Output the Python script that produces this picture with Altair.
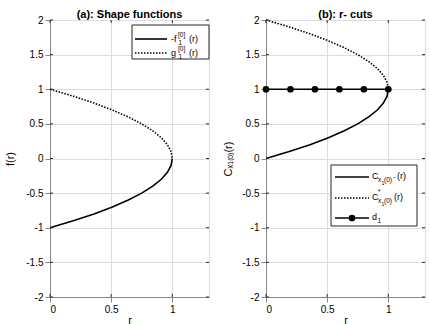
import altair as alt
import pandas as pd

FONT = "Liberation Sans"
INK = "#262626"

# ---- values ----
r_pts = [0.0, 0.19, 0.36, 0.51, 0.64, 0.75, 0.84, 0.91, 0.96, 0.99, 1.0]
neg_f1 = [-1.0, -0.9, -0.8, -0.7, -0.6, -0.5, -0.4, -0.3, -0.2, -0.1, 0.0]
g1 = [1.0, 0.9, 0.8, 0.7, 0.6, 0.5, 0.4, 0.3, 0.2, 0.1, 0.0]
c_lo = [0.0, 0.1, 0.2, 0.3, 0.4, 0.5, 0.6, 0.7, 0.8, 0.9, 1.0]
c_hi = [2.0, 1.9, 1.8, 1.7, 1.6, 1.5, 1.4, 1.3, 1.2, 1.1, 1.0]
d_r = [0.0, 0.2, 0.4, 0.6, 0.8, 1.0]
d1 = [1.0, 1.0, 1.0, 1.0, 1.0, 1.0]

x_ticks = [0, 0.5, 1]
y_ticks = [-2, -1.5, -1, -0.5, 0, 0.5, 1, 1.5, 2]

W, H = 159, 277


def frame(r, y):
    return pd.DataFrame({"r": r, "y": y, "i": list(range(len(r)))})


def xenc():
    return alt.X("r:Q", scale=alt.Scale(domain=[0, 1.3], nice=False, zero=False),
                 axis=alt.Axis(values=x_ticks, title="r", labelExpr="'' + datum.value",
                               titleFontWeight="normal", titlePadding=0, labelPadding=2))


def yenc(title, tpad):
    return alt.Y("y:Q", scale=alt.Scale(domain=[-2, 2], nice=False),
                 axis=alt.Axis(values=y_ticks, title=title, labelExpr="'' + datum.value",
                               titleFontWeight="normal", titlePadding=tpad))


def curve(df, title, tpad, dash=None):
    kw = dict(color="black", strokeWidth=1.6)
    if dash:
        kw["strokeDash"] = dash
    return alt.Chart(df).mark_line(**kw).encode(x=xenc(), y=yenc(title, tpad), order="i:Q")


def inner_ticks(title, tpad):
    yt = pd.DataFrame({"y": y_ticks})
    xt = pd.DataFrame({"r": x_ticks})
    rk = dict(color=INK, strokeWidth=1)
    return [
        alt.Chart(yt).mark_rule(**rk).encode(x=alt.value(0), x2=alt.value(3),
                                             y=yenc(title, tpad)),
        alt.Chart(yt).mark_rule(**rk).encode(x=alt.value(W - 3), x2=alt.value(W),
                                             y=yenc(title, tpad)),
        alt.Chart(xt).mark_rule(**rk).encode(y=alt.value(0), y2=alt.value(3), x=xenc()),
        alt.Chart(xt).mark_rule(**rk).encode(y=alt.value(H - 3), y2=alt.value(H), x=xenc()),
    ]


one = pd.DataFrame({"k": [0]})


def txt(s, x, y, size=9):
    return alt.Chart(one).mark_text(text=s, align="left", baseline="middle",
                                    fontSize=size, font=FONT, color="black").encode(
        x=alt.value(x), y=alt.value(y))


def box(x1, x2, y1, y2):
    return alt.Chart(one).mark_rect(fill="white", stroke=INK, strokeWidth=1).encode(
        x=alt.value(x1), x2=alt.value(x2), y=alt.value(y1), y2=alt.value(y2))


def sample(x1, x2, y, dash=None):
    kw = dict(color="black", strokeWidth=1.6)
    if dash:
        kw["strokeDash"] = dash
    return alt.Chart(one).mark_rule(**kw).encode(
        x=alt.value(x1), x2=alt.value(x2), y=alt.value(y))


DOT = [1.5, 1.5]

# ---- panel (a) ----
TA = 10
pa = alt.layer(
    curve(frame(r_pts, neg_f1), "f(r)", TA),
    curve(frame(r_pts, g1), "f(r)", TA, DOT),
    *inner_ticks("f(r)", TA),
    box(82, 159, 5, 39),
    sample(85, 117, 19),
    sample(85, 117, 33, DOT),
    txt("-f", 121, 19), txt("[0]", 128, 15, 6.5), txt("1", 128.5, 23, 6.5), txt("(r)", 139, 19),
    txt("g", 121, 33), txt("[0]", 128, 29, 6.5), txt("1", 128.5, 37, 6.5), txt("(r)", 139, 33),
).properties(width=W, height=H,
             title=alt.Title("(a): Shape functions", fontSize=11, fontWeight="bold",
                             font=FONT, offset=-5, color="black"))

# ---- panel (b) ----
TB = 8
ylab_b = "Cₓ₁₍₀₎(r)"
pb = alt.layer(
    curve(frame(r_pts, c_lo), ylab_b, TB),
    curve(frame(r_pts, c_hi), ylab_b, TB, DOT),
    alt.Chart(frame(d_r, d1)).mark_line(color="black", strokeWidth=1.6).encode(
        x=xenc(), y=yenc(ylab_b, TB)),
    alt.Chart(frame(d_r, d1)).mark_point(shape="circle", filled=True, size=45,
                                         color="black", opacity=1).encode(
        x=xenc(), y=yenc(ylab_b, TB)),
    *inner_ticks(ylab_b, TB),
    box(65, 151, 145, 206),
    sample(69, 103, 157),
    sample(69, 103, 178, DOT),
    sample(69, 103, 198),
    alt.Chart(one).mark_point(shape="circle", filled=True, size=45, color="black",
                              opacity=1).encode(x=alt.value(86), y=alt.value(198)),
    txt("C", 106, 156), txt("x", 112, 160, 6.5), txt("1", 115.5, 163, 5), txt("(0)", 118, 160, 6.5),
    txt("-", 127, 157, 7), txt("(r)", 131, 156),
    txt("C", 106, 177), txt("*", 112, 172, 6.5), txt("x", 112, 181, 6.5), txt("1", 115.5, 184, 5),
    txt("(0)", 118, 181, 6.5), txt("(r)", 128, 177),
    txt("d", 106, 197), txt("1", 111.5, 201, 6.5),
).properties(width=W, height=H,
             title=alt.Title("(b): r- cuts", fontSize=11, fontWeight="bold",
                             font=FONT, offset=-5, color="black"))

chart = alt.hconcat(pa, pb, spacing=57, bounds="flush").properties(
    padding={"left": 4, "top": 8, "right": 0, "bottom": 0},
).configure_view(stroke=INK, strokeWidth=1).configure_axis(
    labelFont=FONT, titleFont=FONT, labelFontSize=10, titleFontSize=10,
    labelColor=INK, titleColor=INK, titleFontWeight="normal",
    domainColor=INK, tickColor=INK, tickSize=0, labelPadding=4,
    gridColor="#e6e6e6", gridOpacity=1,
).configure(background="white")

chart.save("out.html", embed_options={"renderer": "svg", "actions": False})
